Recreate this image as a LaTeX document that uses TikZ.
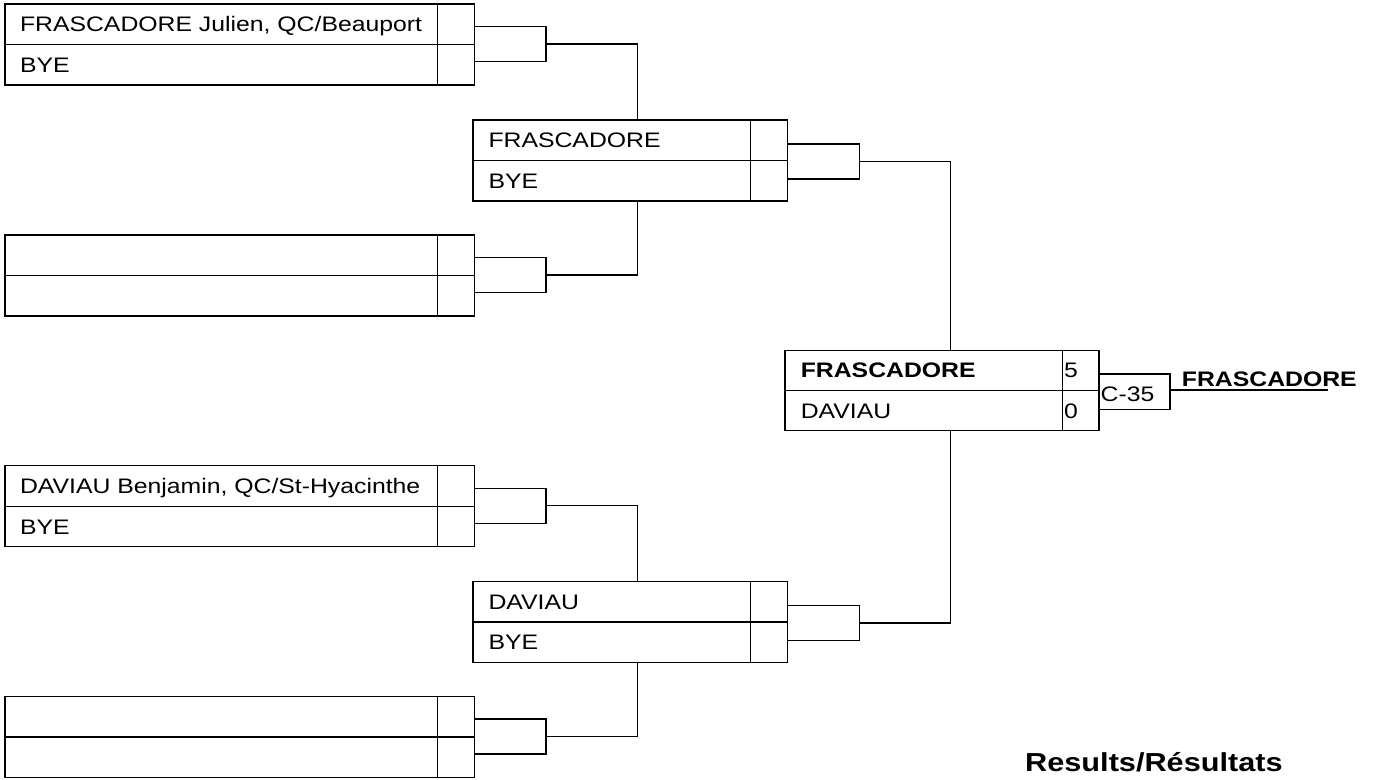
\documentclass[tikz,border=0pt]{standalone}
\usepackage{fontspec}
\setmainfont{Liberation Sans}[FakeStretch=1.18]
\usetikzlibrary{calc}
\tikzset{
  frame/.style={draw=black, line width=1.4pt, rectangle, inner sep=0pt, anchor=north west},
  namecell/.style={frame, minimum height=40.5},
  scorecell/.style={frame, minimum height=40.5, minimum width=36.5},
  bracketbox/.style={frame, minimum height=35},
  wire/.style={draw=black, line width=1.3pt},
  txt/.style={anchor=base west, inner sep=0pt, font=\fontsize{21}{25}\selectfont},
  btxt/.style={txt, font=\fontsize{21}{25}\selectfont\bfseries},
}
\newcommand\roundone[4]{%
  \node[namecell, minimum width=432.7] (#1a) at (4.3,#2) {};
  \node[scorecell] (#1as) at (437,#2) {};
  \node[namecell, minimum width=432.7] (#1b) at (4.3,#2+40.5) {};
  \node[scorecell] (#1bs) at (437,#2+40.5) {};
  \node[txt] (#1at) at (19.8,#2+28.5) {#3};
  \node[txt] (#1bt) at (19.8,#2+69) {#4};
  \node[bracketbox, minimum width=71.7] (#1k) at (473.5,#2+22.5) {};
}
\newcommand\roundtwo[4]{%
  \node[namecell, minimum width=277.7] (#1a) at (472.3,#2) {};
  \node[scorecell] (#1as) at (750,#2) {};
  \node[namecell, minimum width=277.7] (#1b) at (472.3,#2+40.5) {};
  \node[scorecell] (#1bs) at (750,#2+40.5) {};
  \node[txt] (#1at) at (488.3,#2+28.5) {#3};
  \node[txt] (#1bt) at (488.3,#2+69) {#4};
  \node[bracketbox, minimum width=72.3] (#1k) at (786.7,#2+24) {};
}
\begin{document}
\begin{tikzpicture}[x=1pt, y=-1pt]
\fill[white] (0,0) rectangle (1375,779);
\useasboundingbox (0,0) rectangle (1375,779);

% first round
\roundone{p}{3.3}{FRASCADORE Julien, QC/Beauport}{BYE}
\roundone{q}{234.3}{}{}
\roundone{r}{465}{DAVIAU Benjamin, QC/St-Hyacinthe}{BYE}
\roundone{s}{695.7}{}{}

% second round
\roundtwo{u}{119.3}{FRASCADORE}{BYE}
\roundtwo{v}{580.7}{DAVIAU}{BYE}

% final
\node[namecell, minimum width=277.5, minimum height=40] (fa) at (784.2,350) {};
\node[scorecell, minimum height=40] (fas) at (1061.7,350) {};
\node[namecell, minimum width=277.5, minimum height=39.5] (fb) at (784.2,390) {};
\node[scorecell, minimum height=39.5] (fbs) at (1061.7,390) {};
\node[btxt] (fat) at (800.6,377) {FRASCADORE};
\node[txt] (fbt) at (800.6,418.5) {DAVIAU};
\node[txt] (fass) at (1064,377) {5};
\node[txt] (fbss) at (1064,418.5) {0};
\node[frame, minimum width=71, minimum height=35.7] (c35) at (1098.3,373.3) {};
\node[txt] (c35t) at (1100.5,401.7) {C-35};

% junction points on the boxes' top and bottom edges
\coordinate (ju1) at (637.5,119.3);
\coordinate (ju2) at (637.5,200.3);
\coordinate (jv1) at (637.5,580.7);
\coordinate (jv2) at (637.5,661.7);
\coordinate (jf1) at (950.6,350);
\coordinate (jf2) at (950.6,429.5);
\coordinate (wend) at (1328.3,390);

% connectors
\draw[wire] (pk.east) -| (ju1);
\draw[wire] (qk.east) -| (ju2);
\draw[wire] (rk.east) -| (jv1);
\draw[wire] (sk.east) -| (jv2);
\draw[wire] (uk.east) -| (jf1);
\draw[wire] (vk.east) -| (jf2);
\draw[wire] (c35.east |- wend) -- (wend);

\node[btxt] (win) at (1181.7,386) {FRASCADORE};
\node[txt, font=\fontsize{26}{30}\selectfont\bfseries] (res) at (1025,771.7) {Results/Résultats};
\end{tikzpicture}
\end{document}
